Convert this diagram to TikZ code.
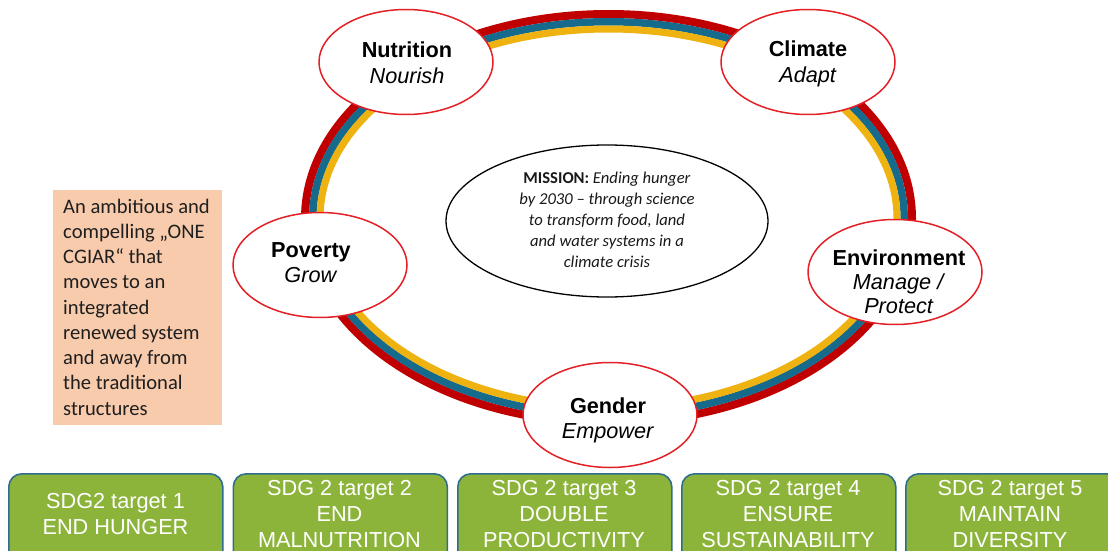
\documentclass[tikz,border=0pt]{standalone}
\usepackage{fontspec}
\setmainfont{Liberation Sans}
\newfontfamily\calfont{Carlito}
\usetikzlibrary{shapes.geometric}
\definecolor{ringred}{RGB}{192,0,0}
\definecolor{ringblue}{RGB}{22,106,140}
\definecolor{ringyellow}{RGB}{238,178,17}
\definecolor{nodered}{RGB}{228,32,38}
\definecolor{peach}{RGB}{248,203,173}
\definecolor{sdggreen}{RGB}{141,180,58}
\definecolor{sdgborder}{RGB}{47,110,142}
\newcommand{\stackl}[1]{\begin{tabular}[t]{@{}c@{}}#1\end{tabular}}
\begin{document}
\begin{tikzpicture}[x=1pt,y=-1pt,
  ringnode/.style={ellipse, draw=nodered, line width=1.5pt, fill=white,
    minimum width=174pt, minimum height=105pt, inner sep=0pt},
  ringtext/.style={anchor=base, inner sep=0pt, font=\fontsize{21.7}{25}\selectfont},
  sdgbox/.style={draw=sdgborder, fill=sdggreen, line width=1.6pt, rounded corners=13pt,
    anchor=north west, minimum width=214pt, minimum height=100pt, inner sep=0pt},
  sdgtext/.style={anchor=base, inner sep=0pt, text=white, font=\fontsize{21.7}{26}\selectfont},
]
\useasboundingbox (0,0) rectangle (1108,551);
\clip (0,0) rectangle (1108,551);
\fill[white] (0,0) rectangle (1108,551);

% ring
\draw[ringred, line width=8pt] (608.5,218.4) ellipse [x radius=303.5, y radius=204.4];
\draw[ringblue, line width=7.5pt] (608.5,218.4) ellipse [x radius=295.75, y radius=196.65];
\draw[ringyellow, line width=7pt] (608.5,218.4) ellipse [x radius=288.5, y radius=189.4];

% mission
\node[ellipse, draw=black, line width=1.3pt, minimum width=322pt, minimum height=152pt, inner sep=0pt] (mission) at (607,221) {};
\node[anchor=base, inner sep=0pt, text=black!90, font=\calfont\fontsize{16.6}{21.2}\selectfont] (missiontext) at (607,183)
  {\stackl{\textbf{MISSION:} \textit{Ending hunger}\\\textit{by 2030 – through science}\\\textit{to transform food, land}\\\textit{and water systems in a}\\\textit{climate crisis}}};

% ring nodes
\node[ringnode] (nutrition) at (406,62) {};
\node[ringtext] (nutritiontext) at (407,58) {\stackl{\textbf{Nutrition}\\\textit{Nourish}}};
\node[ringnode] (climate) at (808,62) {};
\node[ringtext] (climatetext) at (808,57) {\stackl{\textbf{Climate}\\\textit{Adapt}}};
\node[ringnode] (poverty) at (320,265) {};
\node[ringtext] (povertytext) at (311,257) {\stackl{\textbf{Poverty}\\\textit{Grow}}};
\node[ringnode] (environment) at (895,272) {};
\node[ringtext, font=\fontsize{21.7}{24}\selectfont] (environmenttext) at (899,265) {\stackl{\textbf{Environment}\\\textit{Manage /}\\\textit{Protect}}};
\node[ringnode] (gender) at (610,415) {};
\node[ringtext] (gendertext) at (608,413) {\stackl{\textbf{Gender}\\\textit{Empower}}};

% left box
\node[fill=peach, anchor=north west, minimum width=169pt, minimum height=235pt, inner sep=0pt] (cgiarbox) at (53,190) {};
\node[anchor=base west, inner sep=0pt, text=black!88, font=\calfont\fontsize{20.6}{25.25}\selectfont] (cgiartext) at (63,213)
  {\begin{tabular}[t]{@{}l@{}}An ambitious and\\compelling „ONE\\CGIAR“ that\\moves to an\\integrated\\renewed system\\and away from\\the traditional\\structures\end{tabular}};

% SDG boxes
\node[sdgbox] (sdg1) at (8,473) {};
\node[sdgbox] (sdg2) at (232.5,473) {};
\node[sdgbox] (sdg3) at (457,473) {};
\node[sdgbox] (sdg4) at (681,473) {};
\node[sdgbox] (sdg5) at (905,473) {};
\node[sdgtext] (sdg1text) at (115.5,508) {\stackl{SDG2 target 1\\END HUNGER}};
\node[sdgtext] (sdg2text) at (339.5,495.5) {\stackl{SDG 2 target 2\\END\\MALNUTRITION}};
\node[sdgtext] (sdg3text) at (564,495.5) {\stackl{SDG 2 target 3\\DOUBLE\\PRODUCTIVITY}};
\node[sdgtext] (sdg4text) at (788,495.5) {\stackl{SDG 2 target 4\\ENSURE\\SUSTAINABILITY}};
\node[sdgtext] (sdg5text) at (1010,495.5) {\stackl{SDG 2 target 5\\MAINTAIN\\DIVERSITY}};
\end{tikzpicture}
\end{document}
